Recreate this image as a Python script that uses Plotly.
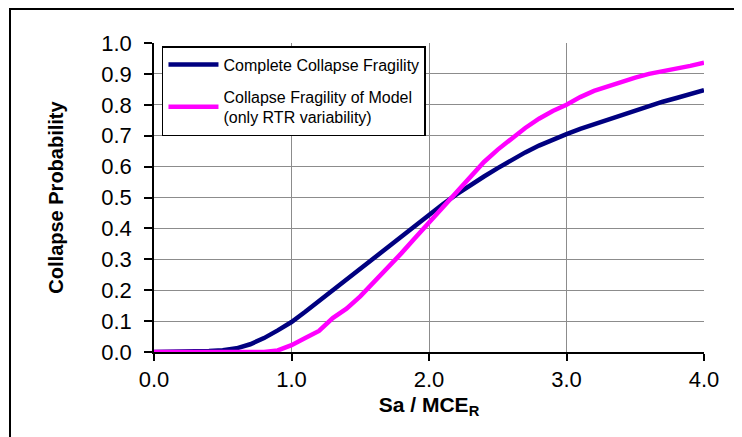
import plotly.graph_objects as go

# ── data ──────────────────────────────────────────────────────────────────────
sa_mce = [0.0, 0.1, 0.2, 0.3, 0.4, 0.5, 0.6, 0.7, 0.8, 0.9,
          1.0, 1.1, 1.2, 1.3, 1.4, 1.5, 1.6, 1.7, 1.8, 1.9,
          2.0, 2.1, 2.2, 2.3, 2.4, 2.5, 2.6, 2.7, 2.8, 2.9,
          3.0, 3.1, 3.2, 3.3, 3.4, 3.5, 3.6, 3.7, 3.8, 3.9, 4.0]

complete_fragility = [0.0, 0.0, 0.0, 0.001, 0.003, 0.006, 0.012, 0.025, 0.045, 0.07,
                      0.097, 0.13, 0.165, 0.2, 0.235, 0.27, 0.305, 0.34, 0.375, 0.41,
                      0.445, 0.478, 0.51, 0.54, 0.568, 0.595, 0.622, 0.646, 0.668, 0.688,
                      0.705, 0.722, 0.737, 0.752, 0.767, 0.781, 0.795, 0.81, 0.822, 0.835, 0.847]

model_fragility = [0.0, 0.0, 0.0, 0.0, 0.0, 0.0, 0.0, 0.0, 0.0, 0.005,
                   0.022, 0.045, 0.068, 0.11, 0.14, 0.18, 0.225, 0.27, 0.32, 0.37,
                   0.42, 0.47, 0.52, 0.57, 0.615, 0.655, 0.69, 0.725, 0.755, 0.78,
                   0.80, 0.825, 0.845, 0.86, 0.875, 0.888, 0.90, 0.908, 0.917, 0.926, 0.936]

series_names = ["Complete Collapse Fragility",
                "Collapse Fragility of Model<br>(only RTR variability)"]
series_colors = ["#000080", "#FF00FF"]

FONT = "Arial, 'Liberation Sans', sans-serif"

fig = go.Figure()
for name, vals, col, grp in zip(series_names, [complete_fragility, model_fragility],
                                series_colors, ["a", "b"]):
    fig.add_trace(go.Scatter(
        x=sa_mce, y=vals, mode="lines", name=name, legendgroup=grp,
        line=dict(color=col, width=4.5),
    ))

# page body adds an 8px offset, so margins are shifted to compensate
fig.update_layout(
    width=742, height=437,
    margin=dict(l=146, r=46, t=35, b=93),
    paper_bgcolor="white", plot_bgcolor="white",
    font=dict(family=FONT, color="black"),
    showlegend=True,
    legend=dict(
        x=0.0145, y=0.99, xanchor="left", yanchor="top",
        bgcolor="white", bordercolor="black", borderwidth=1.5,
        font=dict(size=16, family=FONT),
        tracegroupgap=8, itemwidth=50,
    ),
    xaxis=dict(
        range=[0, 4], dtick=1, tickformat=".1f",
        showgrid=True, gridcolor="#8c8c8c", gridwidth=1.2,
        showline=True, linecolor="black", linewidth=1.5,
        ticks="outside", ticklen=7, tickcolor="black", tickwidth=1.5,
        tickfont=dict(size=22), zeroline=False,
        title=dict(text="<b>Sa / MCE<sub>R</sub></b>", font=dict(size=21), standoff=6),
    ),
    yaxis=dict(
        range=[0, 1], dtick=0.1, tickformat=".1f",
        showgrid=True, gridcolor="#8c8c8c", gridwidth=1.2,
        showline=True, linecolor="black", linewidth=1.5,
        ticks="outside", ticklen=8, tickcolor="black", tickwidth=1.5,
        tickfont=dict(size=22), zeroline=False, ticklabelstandoff=8,
        title=dict(text="<b>Collapse Probability</b>", font=dict(size=20), standoff=32),
    ),
    shapes=[dict(
        type="rect", xref="paper", yref="paper",
        x0=(2 - 146) / 550, x1=1.5, y0=-1.0, y1=(344 - 1) / 309,
        line=dict(color="black", width=2), fillcolor="rgba(0,0,0,0)", layer="below",
    )],
)

fig.write_html("out.html")
